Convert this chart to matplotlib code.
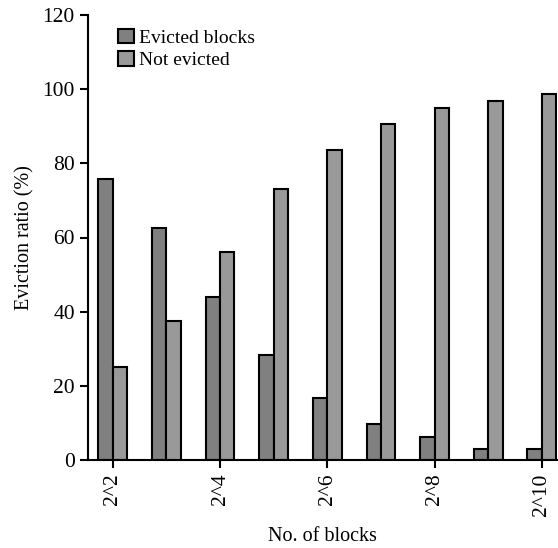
import matplotlib
matplotlib.use("Agg")
import matplotlib.pyplot as plt
import numpy as np

groups = ["2^2", "2^3", "2^4", "2^5", "2^6", "2^7", "2^8", "2^9", "2^10"]
evicted = [75.8, 62.6, 43.9, 28.3, 16.7, 9.7, 6.2, 3.0, 3.0]
not_evicted = [25.2, 37.5, 56.2, 73.1, 83.7, 90.7, 94.9, 96.9, 98.7]
tick_labels = ["2^2", "2^4", "2^6", "2^8", "2^10"]
yticks = [0, 20, 40, 60, 80, 100, 120]

plt.rcParams['font.family'] = ['Liberation Serif', 'DejaVu Serif']

fig = plt.figure(figsize=(5.58, 5.48), dpi=100)
ax = fig.add_axes([88/558, 1 - 460/548, (557-88)/558, (460-15)/548])

x = np.arange(len(groups))
w = 0.27
ax.bar(x - w/2, evicted, w, color="#808080", edgecolor="black", linewidth=1.5, label="Evicted blocks")
ax.bar(x + w/2, not_evicted, w, color="#999999", edgecolor="black", linewidth=1.5, label="Not evicted")

ax.set_xlim(-0.46, 8.28)
ax.set_ylim(0, 120)
ax.set_yticks(yticks)
ax.set_yticklabels([str(v) for v in yticks], fontsize=15.5)
ax.set_xticks(x[::2])
ax.set_xticklabels(tick_labels, rotation=90, fontsize=15.5)
ax.tick_params(axis='both', direction='out', length=6, width=1.5)
for s in ["top", "right"]:
    ax.spines[s].set_visible(False)
for s in ["left", "bottom"]:
    ax.spines[s].set_linewidth(1.5)

ax.set_ylabel("Eviction ratio (%)", fontsize=14.5, labelpad=6)
ax.set_xlabel("No. of blocks", fontsize=14.5, labelpad=8)

ax.legend(loc="upper left", bbox_to_anchor=(0.035, 1.0), frameon=False, fontsize=14,
          handlelength=0.8, handleheight=0.8, handletextpad=0.3, labelspacing=0.2, borderaxespad=0.3)

fig.savefig("out.png", dpi=100)
